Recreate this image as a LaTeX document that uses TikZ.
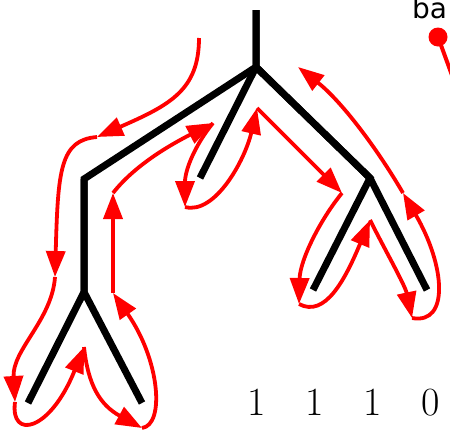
\documentclass[tikz,border=0pt]{standalone}
\usepackage{fontspec}
\newfontfamily\labelsans{DejaVu Sans}
\usetikzlibrary{arrows.meta}
\begin{document}
\begin{tikzpicture}[x=1pt,y=-1pt,
  treeline/.style={line width=7pt, line cap=butt, line join=miter},
  walk/.style={red, line width=3.8pt, -{Triangle[length=26pt,width=19pt]}},
  digit/.style={font=\fontsize{40}{48}\selectfont, anchor=base, inner sep=0pt}]
\useasboundingbox (0,0) rectangle (450,437);
% tree
\coordinate (top) at (256,10);
\coordinate (R) at (256,67);
\coordinate (A) at (84,179);
\coordinate (B) at (84,292);
\coordinate (BL) at (28,403);
\coordinate (BR) at (142,403);
\coordinate (M) at (200,178);
\coordinate (C) at (370,178);
\coordinate (CL) at (313,290);
\coordinate (CR) at (427,290);
\draw[treeline] (top) -- (R) -- (A) -- (B) -- (BL);
\draw[treeline] (top) -- (R) -- (C) -- (CL);
\draw[treeline] (R) -- (C) -- (CR);
\draw[treeline] (A) -- (B) -- (BR);
\draw[treeline] (R) -- (M);
% walk points
\coordinate (w0) at (199,38);
\coordinate (w1) at (97,137);
\coordinate (w2) at (55,277);
\coordinate (w3) at (15,402);
\coordinate (w4) at (84,347);
\coordinate (w5) at (142,428);
\coordinate (w6) at (113,293);
\coordinate (w7) at (113,193);
\coordinate (w8) at (213,123);
\coordinate (w9) at (185,207);
\coordinate (w10) at (257,108);
\coordinate (w11) at (342,193);
\coordinate (w12) at (299,304);
\coordinate (w13) at (370,220);
\coordinate (w14) at (412,318);
\coordinate (w15) at (403,193);
\coordinate (w16) at (298,67);
\draw[walk] (w0) .. controls (199,90) and (170,105) .. (w1);
\draw[walk] (w1) .. controls (60,140) and (58,170) .. (w2);
\draw[walk] (w2) .. controls (52,320) and (12,350) .. (w3);
\draw[walk] (w3) .. controls (10,440) and (50,432) .. (w4);
\draw[walk] (w4) .. controls (88,385) and (100,405) .. (w5);
\draw[walk] (w5) .. controls (165,425) and (160,360) .. (w6);
\draw[walk] (w6) -- (w7);
\draw[walk] (w7) .. controls (135,165) and (170,145) .. (w8);
\draw[walk] (w8) .. controls (195,145) and (185,170) .. (w9);
\draw[walk] (w9) .. controls (215,215) and (245,160) .. (w10);
\draw[walk] (w10) -- (w11);
\draw[walk] (w11) .. controls (320,220) and (300,260) .. (w12);
\draw[walk] (w12) .. controls (325,318) and (345,280) .. (w13);
\draw[walk] (w13) .. controls (385,250) and (405,285) .. (w14);
\draw[walk] (w14) .. controls (450,325) and (445,265) .. (w15);
\draw[walk] (w15) .. controls (375,145) and (340,100) .. (w16);
% legend fragment
\coordinate (dot) at (438,37);
\coordinate (dotend) at (453,78);
\fill[red] (dot) circle[radius=9.5pt];
\draw[red, line width=4pt] (dot) -- (dotend);
\node[anchor=base west, inner sep=0pt, font=\labelsans\fontsize{28}{32}\selectfont] (lbl) at (412,18) {ba};
% digits
\node[digit] (d1) at (257,415) {1};
\node[digit] (d2) at (315,415) {1};
\node[digit] (d3) at (373,415) {1};
\node[digit] (d4) at (431,415) {0};
\end{tikzpicture}
\end{document}
